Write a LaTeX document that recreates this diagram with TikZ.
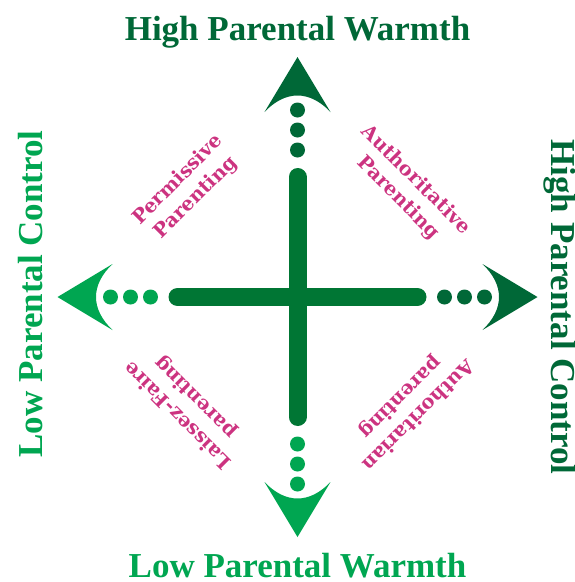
\documentclass[tikz,border=0pt]{standalone}
\usepackage{fontspec}
\setmainfont{Liberation Serif}
\newfontfamily\labelfont{DejaVu Serif}
\usepackage{xcolor}
\usepackage{tikz}
\usetikzlibrary{positioning}

\definecolor{darkgreen}{RGB}{0,104,55}
\definecolor{brightgreen}{RGB}{0,166,81}
\definecolor{bargreen}{RGB}{0,118,52}
\definecolor{stylepink}{RGB}{204,51,128}

\tikzset{
	axislabel/.style={font=\fontsize{35}{40}\selectfont\bfseries, inner sep=0pt},
	stylelabel/.style={font=\labelfont\fontsize{19.5}{25}\selectfont\bfseries, text=stylepink, align=center, inner sep=0pt},
	bar/.style={draw=bargreen, line width=18pt, line cap=round},
	headtip/.pic={\path[pic actions] (0,-33) -- (55,0) -- (0,33) .. controls (22,12) and (22,-12) .. (0,-33) -- cycle;}
}

\begin{document}
\begin{tikzpicture}[x=1pt, y=-1pt, node distance=120pt]
			\useasboundingbox (0,0) rectangle (575,582);
			\coordinate (c) at (297.5,297);

			% the cross
			\coordinate[above=of c] (barN);
			\coordinate[below=of c] (barS);
			\coordinate[left=of c] (barW);
			\coordinate[right=of c] (barE);
			\draw[bar] (barW) -- (barE);
			\draw[bar] (barN) -- (barS);

			% dotted ends
			\foreach \d in {147,167,187} {
				\fill[darkgreen] (c) ++(0,-\d) circle (7.5pt);
				\fill[brightgreen] (c) ++(0,\d) circle (7.5pt);
				\fill[brightgreen] (c) ++(-\d,0) circle (7.5pt);
				\fill[darkgreen] (c) ++(\d,0) circle (7.5pt);
			}

			% arrow heads
			\coordinate[above=185pt of c] (tipN);
			\coordinate[below=185pt of c] (tipS);
			\coordinate[left=185pt of c] (tipW);
			\coordinate[right=185pt of c] (tipE);
			\pic[fill=darkgreen, rotate=90] at (tipN) {headtip};
			\pic[fill=brightgreen, rotate=-90] at (tipS) {headtip};
			\pic[fill=brightgreen, rotate=180] at (tipW) {headtip};
			\pic[fill=darkgreen] at (tipE) {headtip};

			% axis labels
			\node[axislabel, text=darkgreen, anchor=base] (highwarmth) at (297.5,40) {High Parental Warmth};
			\node[axislabel, text=brightgreen, anchor=base] (lowwarmth) at (297.5,577) {Low Parental Warmth};
			\node[axislabel, text=brightgreen, anchor=base, rotate=90] (lowcontrol) at (42,294) {Low Parental Control};
			\node[axislabel, text=darkgreen, anchor=base, rotate=-90] (highcontrol) at (551,307) {High Parental Control};

			% parenting styles
			\node[stylelabel, rotate=45] (permissive) at (187,189) {Permissive\\Parenting};
			\node[stylelabel, rotate=-45] (authoritative) at (407,189) {Authoritative\\Parenting};
			\node[stylelabel, rotate=135] (laissez) at (187,406) {Laissez-Faire\\parenting};
			\node[stylelabel, rotate=-135] (authoritarian) at (409,406) {Authoritarian\\parenting};
		\end{tikzpicture}
\end{document}
